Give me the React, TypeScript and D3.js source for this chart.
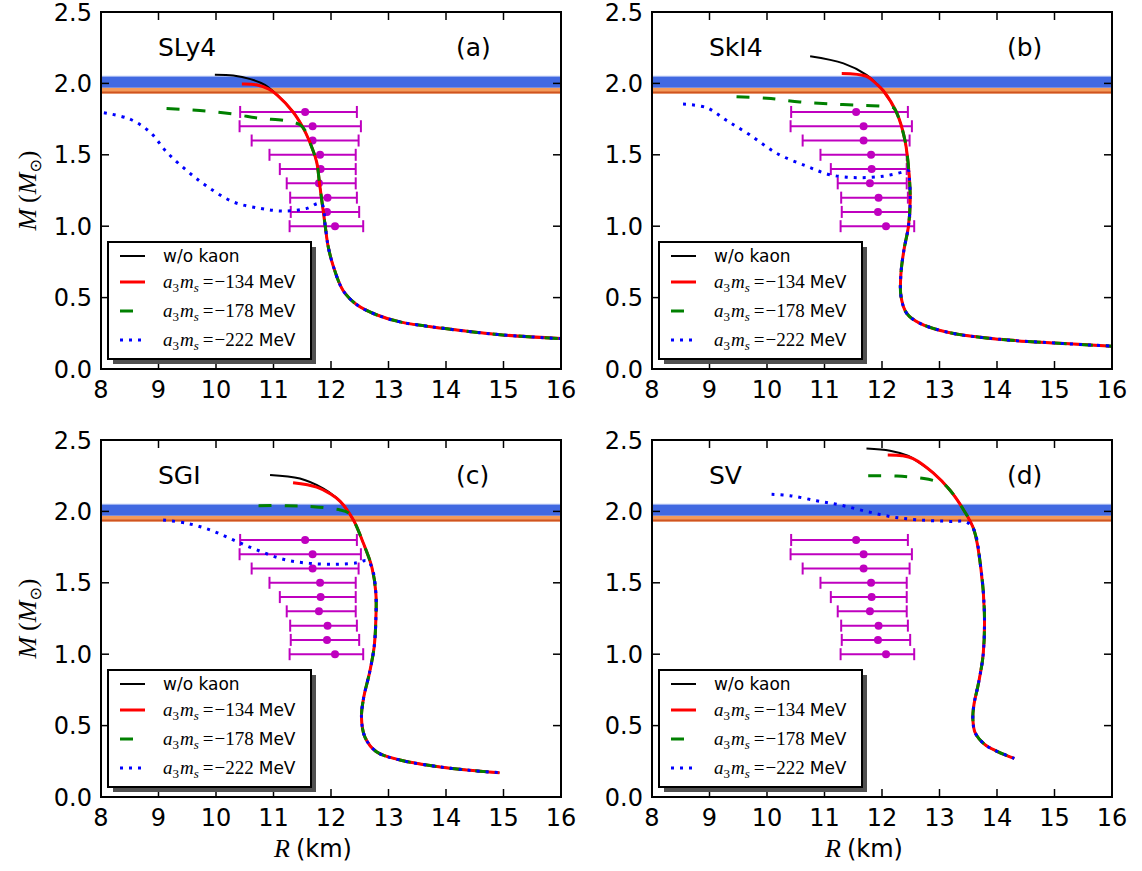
import * as d3 from "d3"

type Pt = [number, number]

const xTicks = [8, 9, 10, 11, 12, 13, 14, 15, 16]
const yTicks = [0, 0.5, 1, 1.5, 2, 2.5]
const eosNames = ["SLy4", "SkI4", "SGI", "SV"]
const panelTags = ["(a)", "(b)", "(c)", "(d)"]
const kaonValues = ["−134", "−178", "−222"]

// observed mass bands (Msun)
const blueBand: Pt = [1.97, 2.05]
const orangeBand: Pt = [1.93, 1.97]

// radius constraints with error bars
const obsMass = [1.8, 1.7, 1.6, 1.5, 1.4, 1.3, 1.2, 1.1, 1.0]
const obsRadius = [11.55, 11.68, 11.68, 11.81, 11.82, 11.79, 11.94, 11.93, 12.07]
const obsLow = [10.42, 10.41, 10.62, 10.93, 11.11, 11.23, 11.29, 11.3, 11.28]
const obsHigh = [12.45, 12.52, 12.48, 12.43, 12.43, 12.43, 12.45, 12.49, 12.56]

// SLy4: [R km, M Msun]
const slyCommon: Pt[] = [[11.06, 1.92], [11.34, 1.8], [11.5, 1.7], [11.62, 1.6], [11.75, 1.45], [11.8, 1.3], [11.85, 1.15], [11.9, 1.0], [11.95, 0.86], [12.04, 0.72], [12.21, 0.55], [12.45, 0.45], [12.79, 0.38], [13.2, 0.33], [13.95, 0.285], [14.94, 0.24], [16.0, 0.213]]
const slyBlack: Pt[] = [[9.98, 2.06], [10.3, 2.055], [10.6, 2.03], [10.85, 1.99]]
const slyRed: Pt[] = [[10.45, 1.995], [10.7, 1.99], [10.92, 1.96]]
const slyGreen: Pt[] = [[9.14, 1.825], [9.72, 1.81], [10.3, 1.785], [10.77, 1.755], [11.2, 1.74], [11.46, 1.71], [11.55, 1.67]]
const slyBlue: Pt[] = [[8.05, 1.795], [8.5, 1.75], [8.85, 1.66], [9.14, 1.52], [9.49, 1.39], [9.84, 1.28], [10.3, 1.17], [10.77, 1.125], [11.17, 1.106], [11.58, 1.125], [11.78, 1.16]]

// SkI4
const skiCommon: Pt[] = [[12.02, 1.95], [12.26, 1.79], [12.4, 1.6], [12.47, 1.37], [12.49, 1.18], [12.46, 1.0], [12.38, 0.83], [12.33, 0.67], [12.33, 0.51], [12.43, 0.39], [12.66, 0.32], [13.18, 0.254], [14.05, 0.208], [15.0, 0.182], [16.0, 0.16]]
const skiBlack: Pt[] = [[10.75, 2.19], [11.33, 2.14], [11.73, 2.06], [11.9, 2.0]]
const skiRed: Pt[] = [[11.3, 2.07], [11.73, 2.05], [11.92, 1.99]]
const skiGreen: Pt[] = [[9.47, 1.907], [10.0, 1.896], [10.57, 1.87], [11.15, 1.855], [11.7, 1.845], [12.02, 1.84], [12.2, 1.83]]
const skiBlue: Pt[] = [[8.54, 1.855], [8.95, 1.83], [9.3, 1.74], [9.7, 1.64], [10.17, 1.51], [10.69, 1.42], [11.1, 1.36], [11.56, 1.34], [12.02, 1.35], [12.37, 1.38], [12.46, 1.39]]

// SGI
const sgiCommon: Pt[] = [[12.16, 2.07], [12.39, 1.94], [12.56, 1.78], [12.71, 1.61], [12.78, 1.43], [12.78, 1.24], [12.75, 1.05], [12.67, 0.87], [12.57, 0.7], [12.53, 0.56], [12.59, 0.42], [12.79, 0.317], [13.2, 0.259], [13.78, 0.217], [14.36, 0.189], [14.93, 0.17]]
const sgiBlack: Pt[] = [[10.94, 2.255], [11.46, 2.23], [11.87, 2.16], [12.05, 2.11]]
const sgiRed: Pt[] = [[11.34, 2.2], [11.75, 2.17], [12.0, 2.12]]
const sgiGreen: Pt[] = [[10.74, 2.04], [11.23, 2.04], [11.69, 2.033], [12.16, 2.01], [12.3, 1.99]]
const sgiBlue: Pt[] = [[9.08, 1.94], [9.49, 1.917], [9.9, 1.87], [10.3, 1.8], [10.71, 1.73], [11.17, 1.665], [11.63, 1.636], [12.1, 1.63], [12.45, 1.64], [12.62, 1.655]]

// SV
const svCommon: Pt[] = [[12.54, 2.37], [12.89, 2.27], [13.18, 2.15], [13.42, 2.01], [13.6, 1.87], [13.72, 1.6], [13.78, 1.3], [13.76, 1.0], [13.68, 0.8], [13.6, 0.65], [13.58, 0.55], [13.62, 0.45], [13.78, 0.37], [14.0, 0.32], [14.3, 0.27]]
const svBlack: Pt[] = [[11.73, 2.44], [12.14, 2.425], [12.45, 2.39]]
const svRed: Pt[] = [[12.1, 2.395], [12.35, 2.39]]
const svGreen: Pt[] = [[11.76, 2.25], [12.26, 2.248], [12.73, 2.23], [12.95, 2.21], [13.08, 2.19]]
const svBlue: Pt[] = [[10.08, 2.12], [10.4, 2.11], [10.86, 2.075], [11.27, 2.045], [11.73, 2.0], [12.2, 1.96], [12.66, 1.94], [13.18, 1.93], [13.47, 1.925]]

const commons = [slyCommon, skiCommon, sgiCommon, svCommon]
const branches = [
  [slyBlack, slyRed, slyGreen, slyBlue],
  [skiBlack, skiRed, skiGreen, skiBlue],
  [sgiBlack, sgiRed, sgiGreen, sgiBlue],
  [svBlack, svRed, svGreen, svBlue],
]

const lineStyles = [
  { color: "#000000", width: 2, dash: undefined },
  { color: "#ff0000", width: 3, dash: undefined },
  { color: "#008000", width: 3, dash: "13 13" },
  { color: "#0000ff", width: 3, dash: "3 6" },
]

const W = 460
const H = 357
const lefts = [101, 652]
const tops = [12, 440]
const SANS = "DejaVu Sans, sans-serif"
const SERIF = "Liberation Serif, DejaVu Serif, serif"

// branch up to where it meets the shared stable branch, then the shared part
const joinCurve = (branch: Pt[], common: Pt[]) => {
  const last = branch[branch.length - 1][1]
  return branch.concat(common.filter(p => p[1] < last))
}

function KaonLabel({ x, y, value }: { x: number, y: number, value: string }) {
  return (
    <text x={x} y={y} fontFamily={SERIF} fontSize={19}>
      <tspan fontStyle="italic">a</tspan>
      <tspan fontSize={13} dy={4}>3</tspan>
      <tspan fontStyle="italic" dy={-4} dx={1}>m</tspan>
      <tspan fontStyle="italic" fontSize={13} dy={4}>s</tspan>
      <tspan dy={-4} dx={4}>=</tspan>
      <tspan dx={1}>{value}</tspan>
      <tspan fontFamily={SANS} fontSize={17} dx={5}>MeV</tspan>
    </text>
  )
}

function Panel({ idx }: { idx: number }) {
  const left = lefts[idx % 2]
  const top = tops[Math.floor(idx / 2)]
  const x = d3.scaleLinear().domain([8, 16]).range([left, left + W])
  const y = d3.scaleLinear().domain([0, 2.5]).range([top + H, top])
  const line = d3.line<Pt>().x(d => x(d[0])).y(d => y(d[1])).curve(d3.curveCatmullRom.alpha(0.5))
  const clipId = `clip${idx}`
  const bottomRow = idx >= 2
  const lx = left + 7
  const ly = top + H - 127
  const rowY = [14, 40, 69, 98]

  return (
    <g>
      <defs>
        <clipPath id={clipId}>
          <rect x={left} y={top} width={W} height={H} />
        </clipPath>
      </defs>
      <g clipPath={`url(#${clipId})`}>
        <rect x={left} y={y(orangeBand[1])} width={W} height={y(orangeBand[0]) - y(orangeBand[1])} fill="#f39a5a" />
        <line x1={left} x2={left + W} y1={y(orangeBand[0]) - 1} y2={y(orangeBand[0]) - 1} stroke="#cf5420" strokeWidth={2} />
        <rect x={left} y={y(blueBand[1])} width={W} height={y(blueBand[0]) - y(blueBand[1])} fill="#4169e1" />
        <line x1={left} x2={left + W} y1={y(blueBand[1])} y2={y(blueBand[1])} stroke="#a9bcf2" strokeWidth={1} />

        {obsMass.map((m, i) => (
          <g key={i} stroke="#bf00bf" strokeWidth={2}>
            <line x1={x(obsLow[i])} x2={x(obsHigh[i])} y1={y(m)} y2={y(m)} />
            <line x1={x(obsLow[i])} x2={x(obsLow[i])} y1={y(m) - 6} y2={y(m) + 6} />
            <line x1={x(obsHigh[i])} x2={x(obsHigh[i])} y1={y(m) - 6} y2={y(m) + 6} />
            <circle cx={x(obsRadius[i])} cy={y(m)} r={4} fill="#bf00bf" stroke="none" />
          </g>
        ))}

        {branches[idx].map((b, i) => (
          <path key={i} d={line(joinCurve(b, commons[idx])) ?? ""} fill="none"
            stroke={lineStyles[i].color} strokeWidth={lineStyles[i].width}
            strokeDasharray={lineStyles[i].dash} />
        ))}
      </g>

      {/* frame and inward ticks */}
      <rect x={left} y={top} width={W} height={H} fill="none" stroke="#000" strokeWidth={2} />
      {xTicks.map(t => (
        <g key={t}>
          <line x1={x(t)} x2={x(t)} y1={top + H} y2={top + H - 8} stroke="#000" strokeWidth={1.5} />
          <line x1={x(t)} x2={x(t)} y1={top} y2={top + 8} stroke="#000" strokeWidth={1.5} />
          <text x={x(t)} y={top + H + 29} textAnchor="middle" fontFamily={SANS} fontSize={24}>{t}</text>
        </g>
      ))}
      {yTicks.map(t => (
        <g key={t}>
          <line x1={left} x2={left + 8} y1={y(t)} y2={y(t)} stroke="#000" strokeWidth={1.5} />
          <line x1={left + W} x2={left + W - 8} y1={y(t)} y2={y(t)} stroke="#000" strokeWidth={1.5} />
          <text x={left - 9} y={y(t) + 8.5} textAnchor="end" fontFamily={SANS} fontSize={24}>{t.toFixed(1)}</text>
        </g>
      ))}

      <text x={left + 57} y={top + 44} fontFamily={SANS} fontSize={25}>{eosNames[idx]}</text>
      <text x={left + 355} y={top + 44} fontFamily={SANS} fontSize={25}>{panelTags[idx]}</text>

      {/* legend */}
      <rect x={lx + 5} y={ly + 5} width={203} height={117} fill="#505050" />
      <rect x={lx} y={ly} width={203} height={117} fill="#fff" stroke="#000" strokeWidth={2} />
      {lineStyles.map((s, i) => (
        <line key={i} x1={lx + 12} x2={lx + 37} y1={ly + rowY[i]} y2={ly + rowY[i]}
          stroke={s.color} strokeWidth={s.width} strokeDasharray={s.dash} />
      ))}
      <text x={lx + 55} y={ly + rowY[0] + 6} fontFamily={SANS} fontSize={17}>w/o kaon</text>
      {kaonValues.map((v, i) => (
        <KaonLabel key={v} x={lx + 55} y={ly + rowY[i + 1] + 6} value={v} />
      ))}

      {idx % 2 === 0 ? (
        <text transform={`translate(36,${top + H / 2}) rotate(-90)`} textAnchor="middle" fontFamily={SERIF} fontSize={26}>
          <tspan fontStyle="italic">M</tspan>
          <tspan dx={6}>(</tspan>
          <tspan fontStyle="italic">M</tspan>
          <tspan fontFamily={SANS} fontSize={16} dy={5}>⊙</tspan>
          <tspan dy={-5}>)</tspan>
        </text>
      ) : null}

      {bottomRow ? (
        <text x={left + W / 2 - 18} y={857} textAnchor="middle" fontFamily={SANS} fontSize={24}>
          <tspan fontFamily={SERIF} fontStyle="italic" fontSize={26}>R</tspan>
          <tspan dx={6}>(km)</tspan>
        </text>
      ) : null}
    </g>
  )
}

export default function App() {
  return (
    <svg width={1142} height={871} style={{ position: "absolute", left: 0, top: 0, background: "#fff" }}>
      {[0, 1, 2, 3].map(i => <Panel key={i} idx={i} />)}
    </svg>
  )
}
